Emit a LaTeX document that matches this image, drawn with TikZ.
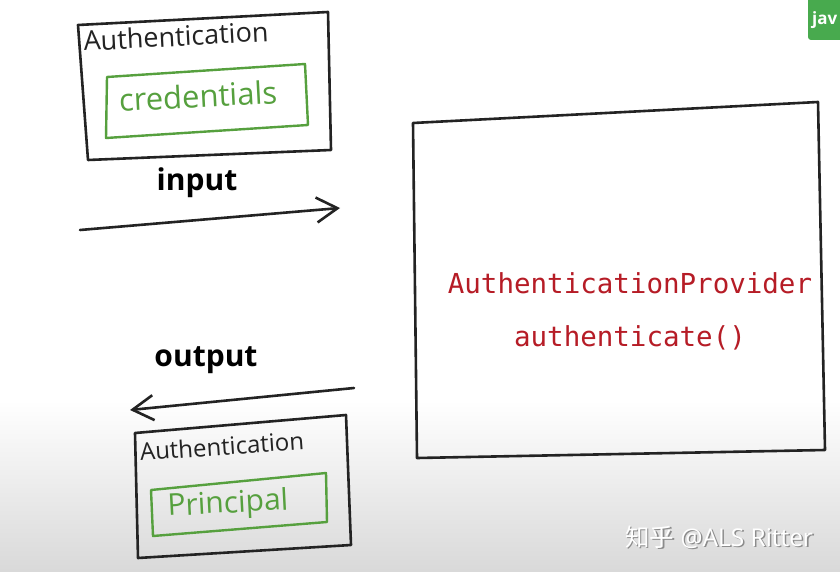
\documentclass[tikz,border=0pt]{standalone}
\usepackage{fontspec}
\setmainfont{Open Sans}
\newfontfamily\handfont{Open Sans}
\newfontfamily\codefont{DejaVu Sans Mono}
\newfontfamily\cjkfont{Noto Sans CJK SC}
\usetikzlibrary{arrows.meta}
\definecolor{pen}{RGB}{35,35,35}
\definecolor{gpen}{RGB}{86,160,62}
\definecolor{codered}{RGB}{182,28,38}
\definecolor{taggreen}{RGB}{72,170,78}
\tikzset{
  blackbox/.style={draw=pen, line width=2.6pt, line join=round, line cap=round},
  greenbox/.style={draw=gpen, line width=2.4pt, line join=round, line cap=round},
  hand/.style={font=\handfont\fontsize{27}{30}\selectfont, text=pen, inner sep=0pt},
  handg/.style={font=\handfont\fontsize{31}{34}\selectfont, text=gpen, inner sep=0pt},
  inout/.style={font=\bfseries\fontsize{30}{34}\selectfont, text=black, inner sep=0pt},
  code/.style={font=\codefont\fontsize{27.5}{30}\selectfont, text=codered, inner sep=0pt},
  flow/.style={draw=pen, line width=2.6pt, line cap=round, -{Straight Barb[length=21pt, width=25pt, line width=2.6pt]}}
}
\begin{document}
\begin{tikzpicture}[x=1pt,y=-1pt]
\useasboundingbox (0,0) rectangle (840,572);
\fill[white] (0,0) rectangle (840,572);
\shade[top color=white, bottom color=black!15] (0,400) rectangle (840,572);

% top Authentication box
\coordinate (a1) at (78,25); \coordinate (a2) at (328,12);
\coordinate (a3) at (331,150); \coordinate (a4) at (88,160);
\draw[blackbox] (a1) -- (a2) -- (a3) -- (a4) -- cycle;
\coordinate (c1) at (107,77); \coordinate (c2) at (305,64);
\coordinate (c3) at (308,125); \coordinate (c4) at (106,138);
\draw[greenbox] (c1) -- (c2) -- (c3) -- (c4) -- cycle;
\node[hand, rotate=3] (authA) at (176,36) {Authentication};
\node[handg, rotate=3] (cred) at (198,96) {credentials};

% input
\node[inout] (input) at (197,183) {input};
\coordinate (inS) at (80,230);
\coordinate (inE) at (340,208);
\draw[flow] (inS) -- (inE);

% provider box
\coordinate (p1) at (413,123); \coordinate (p2) at (818,102);
\coordinate (p3) at (825,450); \coordinate (p4) at (417,458);
\draw[blackbox] (p1) -- (p2) -- (p3) -- (p4) -- cycle;
\node[code] (prov) at (630,283) {AuthenticationProvider};
\node[code] (authm) at (630,338) {authenticate()};

% output
\node[inout] (output) at (206,360) {output};
\coordinate (outS) at (354,388);
\coordinate (outE) at (130,410);
\draw[flow] (outS) -- (outE);

% bottom Authentication box
\coordinate (b1) at (135,433); \coordinate (b2) at (346,415);
\coordinate (b3) at (351,545); \coordinate (b4) at (138,558);
\draw[blackbox] (b1) -- (b2) -- (b3) -- (b4) -- cycle;
\coordinate (d1) at (151,490); \coordinate (d2) at (326,473);
\coordinate (d3) at (327,522); \coordinate (d4) at (153,536);
\draw[greenbox] (d1) -- (d2) -- (d3) -- (d4) -- cycle;
\node[hand, rotate=4, font=\handfont\fontsize{24}{27}\selectfont] (authB) at (222,446) {Authentication};
\node[handg, rotate=3, font=\handfont\fontsize{30}{33}\selectfont] (princ) at (228,505) {Principal};

% java tag
\fill[taggreen, rounded corners=3pt] (808,-5) rectangle (850,40);
\node[font=\bfseries\fontsize{17}{20}\selectfont, text=white, anchor=west, inner sep=0pt] (tag) at (812,20) {jav};

% watermark
\node[font=\fontsize{24.5}{28}\selectfont, text=black!45, anchor=west, inner sep=0pt] (wms) at (626.5,538.5) {{\cjkfont 知乎} @ALS Ritter};
\node[font=\fontsize{24.5}{28}\selectfont, text=white, anchor=west, inner sep=0pt] (wm) at (625,537) {{\cjkfont 知乎} @ALS Ritter};
\end{tikzpicture}
\end{document}
